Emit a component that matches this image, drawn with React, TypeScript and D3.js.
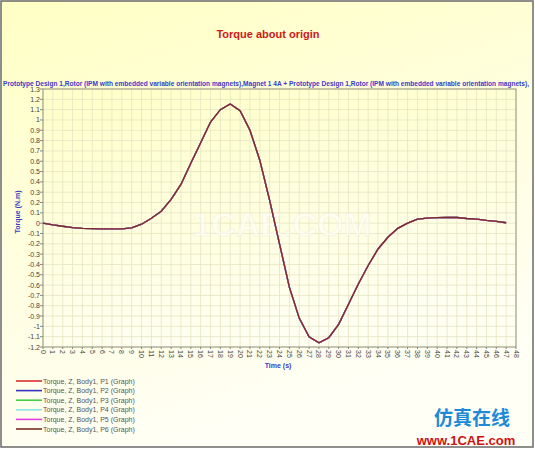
import React from "react";
import * as d3 from "d3";

// Time axis (s) and torque samples (N.m), one per second
const times: number[] = Array.from({ length: 48 }, (_, i) => i);
const torque: number[] = [
  0.0, -0.017, -0.03, -0.043, -0.05, -0.053, -0.055, -0.055, -0.055, -0.045,
  -0.01, 0.048, 0.116, 0.23, 0.375, 0.58, 0.78, 0.98, 1.1, 1.155,
  1.09, 0.9, 0.61, 0.22, -0.2, -0.62, -0.92, -1.1, -1.16, -1.11,
  -0.98, -0.785, -0.59, -0.41, -0.25, -0.137, -0.05, 0.0, 0.04, 0.048,
  0.054, 0.055, 0.055, 0.045, 0.04, 0.026, 0.017, 0.004,
];

const seriesNames: string[] = [
  "Torque, Z, Body1, P1 (Graph)",
  "Torque, Z, Body1, P2 (Graph)",
  "Torque, Z, Body1, P3 (Graph)",
  "Torque, Z, Body1, P4 (Graph)",
  "Torque, Z, Body1, P5 (Graph)",
  "Torque, Z, Body1, P6 (Graph)",
];
const seriesColors: string[] = ["#d83030", "#3434c4", "#44d044", "#88e4e4", "#e040e0", "#7c2c26"];

const xTicks: number[] = d3.range(0, 49);
const yTicks: number[] = d3.range(-12, 14).map((v) => v / 10);

const title = "Torque about origin";
const subtitle =
  "Prototype Design 1,Rotor (IPM with embedded variable orientation magnets),Magnet 1 4A + Prototype Design 1,Rotor (IPM with embedded variable orientation magnets),";

const W = 535;
const H = 449;
const plot = { left: 43, right: 516, top: 89, bottom: 347 };
const FONT = "'Liberation Sans', Arial, sans-serif";

export default function App() {
  const x = d3.scaleLinear().domain([0, 48]).range([plot.left, plot.right]);
  const y = d3.scaleLinear().domain([-1.2, 1.3]).range([plot.bottom, plot.top]);

  const line = d3
    .line<number>()
    .x((_, i) => x(times[i]))
    .y((d) => y(d));
  const path = line(torque) ?? "";

  const fmt = (v: number) => {
    const r = Math.round(v * 10) / 10;
    return r === 0 ? "0" : String(r);
  };

  return (
    <svg
      width={W}
      height={H}
      style={{ position: "absolute", left: 0, top: 0, fontFamily: FONT }}
    >
      <defs>
        <linearGradient id="bg" x1="0" y1="0" x2="0.35" y2="1">
          <stop offset="0" stopColor="#ffffc4" />
          <stop offset="0.55" stopColor="#fffee0" />
          <stop offset="1" stopColor="#fffff6" />
        </linearGradient>
        <linearGradient id="plotbg" x1="0" y1="0" x2="0.3" y2="1">
          <stop offset="0" stopColor="#ffffc8" />
          <stop offset="1" stopColor="#fffff2" />
        </linearGradient>
      </defs>
      <rect x={1} y={1} width={W - 3} height={H - 3} fill="url(#bg)" stroke="#6a6a6a" strokeWidth={1.5} />

      <text x={268} y={38} textAnchor="middle" fontSize={11} fontWeight="bold" fill="#d01818">
        {title}
      </text>
      <text
        x={3}
        y={86}
        fontSize={6.3}
        fontWeight="bold"
        fill="#3a3ac8"
        textLength={526}
        lengthAdjust="spacingAndGlyphs"
      >
        {subtitle}
      </text>

      {/* plot area */}
      <rect
        x={plot.left}
        y={plot.top}
        width={plot.right - plot.left}
        height={plot.bottom - plot.top}
        fill="url(#plotbg)"
      />
      {xTicks.map((t) => (
        <line key={`gx${t}`} x1={x(t)} x2={x(t)} y1={plot.top} y2={plot.bottom} stroke="#e4e4c2" strokeWidth={0.8} />
      ))}
      {yTicks.map((v) => (
        <line key={`gy${v}`} x1={plot.left} x2={plot.right} y1={y(v)} y2={y(v)} stroke="#e4e4c2" strokeWidth={0.8} />
      ))}

      {/* watermark */}
      <text
        x={282}
        y={236}
        textAnchor="middle"
        fontSize={34}
        fontWeight="bold"
        fill="#ffffff"
        opacity={0.55}
        stroke="#f0f0dc"
        strokeWidth={0.8}
      >
        1CAE.COM
      </text>

      <rect
        x={plot.left}
        y={plot.top}
        width={plot.right - plot.left}
        height={plot.bottom - plot.top}
        fill="none"
        stroke="#959580"
        strokeWidth={1}
      />

      {/* y axis */}
      {yTicks.map((v) => (
        <g key={`ty${v}`}>
          <line x1={plot.left - 3} x2={plot.left} y1={y(v)} y2={y(v)} stroke="#888" />
          <text x={plot.left - 3} y={y(v) + 2.5} textAnchor="end" fontSize={7} fill="#444">
            {fmt(v)}
          </text>
        </g>
      ))}
      <text
        transform={`translate(20,${(plot.top + plot.bottom) / 2 - 6}) rotate(-90)`}
        textAnchor="middle"
        fontSize={7}
        fontWeight="bold"
        fill="#3a3ac8"
      >
        Torque (N.m)
      </text>

      {/* x axis */}
      {xTicks.map((t) => (
        <g key={`tx${t}`}>
          <line x1={x(t)} x2={x(t)} y1={plot.bottom} y2={plot.bottom + 2} stroke="#888" />
          <text
            transform={`translate(${x(t) - 2.5},${plot.bottom + 3}) rotate(90)`}
            textAnchor="start"
            fontSize={7}
            fill="#444"
          >
            {t}
          </text>
        </g>
      ))}
      <text x={278} y={368} textAnchor="middle" fontSize={7} fontWeight="bold" fill="#3a3ac8">
        Time (s)
      </text>

      {/* series (all six carry the same samples; P6 is drawn last) */}
      {seriesNames.map((name, i) => (
        <path key={name} d={path} fill="none" stroke={seriesColors[i]} strokeWidth={1.3} />
      ))}

      {/* legend */}
      {seriesNames.map((name, i) => (
        <g key={`lg${name}`} transform={`translate(0,${381 + i * 9.6})`}>
          <line x1={16} x2={42} y1={0} y2={0} stroke={seriesColors[i]} strokeWidth={1.6} />
          <text x={43} y={2.5} fontSize={7} fill="#555">
            {name}
          </text>
        </g>
      ))}

      {/* site mark */}
      <text x={472} y={425} textAnchor="middle" fontSize={19} fontWeight="bold" fill="#1e8ad6" fontFamily="'Noto Sans CJK SC', sans-serif">
        仿真在线
      </text>
      <text x={466} y={445} textAnchor="middle" fontSize={13} fontWeight="bold" fill="#d01010">
        www.1CAE.com
      </text>
    </svg>
  );
}
